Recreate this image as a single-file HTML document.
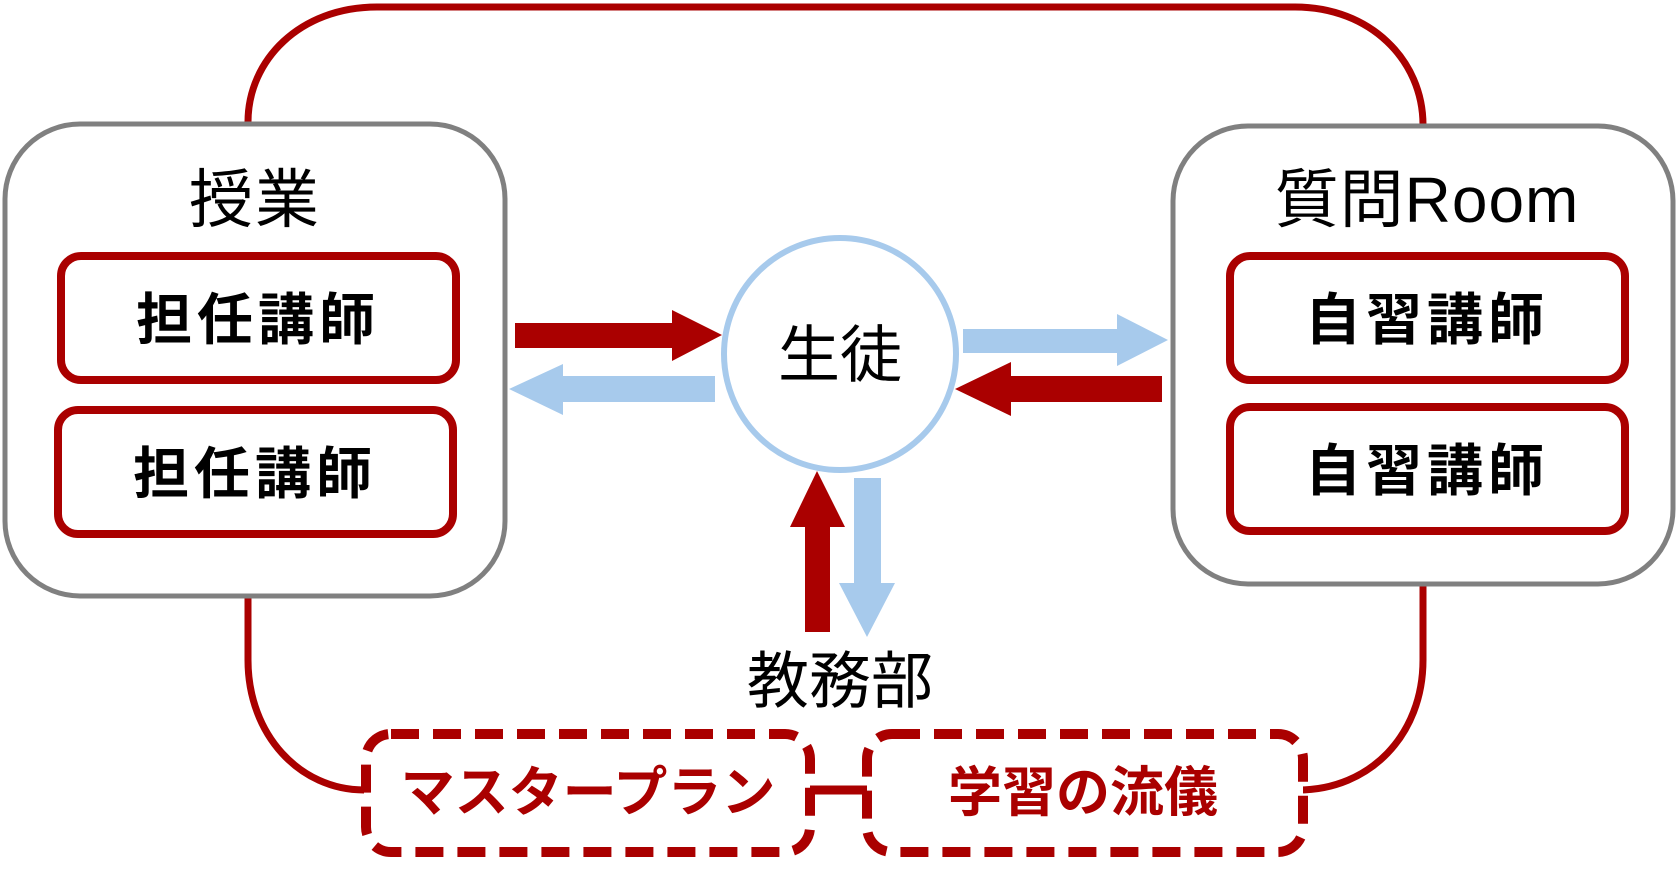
<!DOCTYPE html>
<html><head><meta charset="utf-8"><style>
html,body{margin:0;padding:0;background:#fff;}
svg{display:block;}
text{font-family:"Liberation Sans","Noto Sans CJK JP",sans-serif;text-anchor:middle;dominant-baseline:central;}
</style></head><body>
<svg width="1678" height="889" viewBox="0 0 1678 889" xmlns="http://www.w3.org/2000/svg">
<path d="M248,122 C248,60 300,7 377,7 L1295,7 C1370,7 1423,60 1423,125" fill="none" stroke="#AA0000" stroke-width="7"/>
<path d="M248,596 L248,660 C248,735 300,790 364,790" fill="none" stroke="#AA0000" stroke-width="7"/>
<path d="M1423,584 L1423,660 C1423,735 1370,790 1298,790" fill="none" stroke="#AA0000" stroke-width="7"/>
<line x1="810" y1="790" x2="867" y2="790" stroke="#AA0000" stroke-width="9"/>
<rect x="5" y="124" width="500" height="472" rx="75" fill="#fff" stroke="#808080" stroke-width="5"/>
<text x="255" y="200" font-size="64" letter-spacing="2">授業</text>
<rect x="61" y="256" width="395" height="124" rx="20" fill="#fff" stroke="#AA0000" stroke-width="8"/>
<text x="258" y="320" font-size="56" font-weight="bold" letter-spacing="5">担任講師</text>
<rect x="58" y="410" width="395" height="124" rx="20" fill="#fff" stroke="#AA0000" stroke-width="8"/>
<text x="255" y="474" font-size="56" font-weight="bold" letter-spacing="5">担任講師</text>
<rect x="1173" y="126" width="500" height="458" rx="75" fill="#fff" stroke="#808080" stroke-width="5"/>
<text x="1427" y="200" font-size="64" letter-spacing="1">質問Room</text>
<rect x="1230" y="256" width="395" height="124" rx="20" fill="#fff" stroke="#AA0000" stroke-width="8"/>
<text x="1427" y="320" font-size="56" font-weight="bold" letter-spacing="5">自習講師</text>
<rect x="1230" y="407" width="395" height="124" rx="20" fill="#fff" stroke="#AA0000" stroke-width="8"/>
<text x="1427" y="471" font-size="56" font-weight="bold" letter-spacing="5">自習講師</text>
<circle cx="840" cy="354" r="116" fill="#fff" stroke="#A7CAEC" stroke-width="6"/>
<text x="840" y="356" font-size="62">生徒</text>
<polygon points="515,323 672,323 672,310 722,335 672,361 672,348 515,348" fill="#AA0000"/>
<polygon points="715,376 563,376 563,364 509,389 563,415 563,402 715,402" fill="#A7CAEC"/>
<polygon points="963,329 1117,329 1117,314 1168,340 1117,366 1117,353 963,353" fill="#A7CAEC"/>
<polygon points="1162,376 1011,376 1011,362 955,389 1011,416 1011,402 1162,402" fill="#AA0000"/>
<polygon points="805,632 805,527 790,527 817,471 845,527 830,527 830,632" fill="#AA0000"/>
<polygon points="854,478 881,478 881,583 895,583 867,637 839,583 854,583" fill="#A7CAEC"/>
<text x="840" y="682" font-size="62">教務部</text>
<rect x="366" y="734" width="444" height="118" rx="25" fill="#fff" stroke="#AA0000" stroke-width="10" stroke-dasharray="28 14"/>
<text x="588" y="793" font-size="54" font-weight="bold" fill="#AA0000">マスタープラン</text>
<rect x="867" y="734" width="436" height="118" rx="25" fill="#fff" stroke="#AA0000" stroke-width="10" stroke-dasharray="28 14"/>
<text x="1083" y="793" font-size="54" font-weight="bold" fill="#AA0000">学習の流儀</text>
</svg>
</body></html>
